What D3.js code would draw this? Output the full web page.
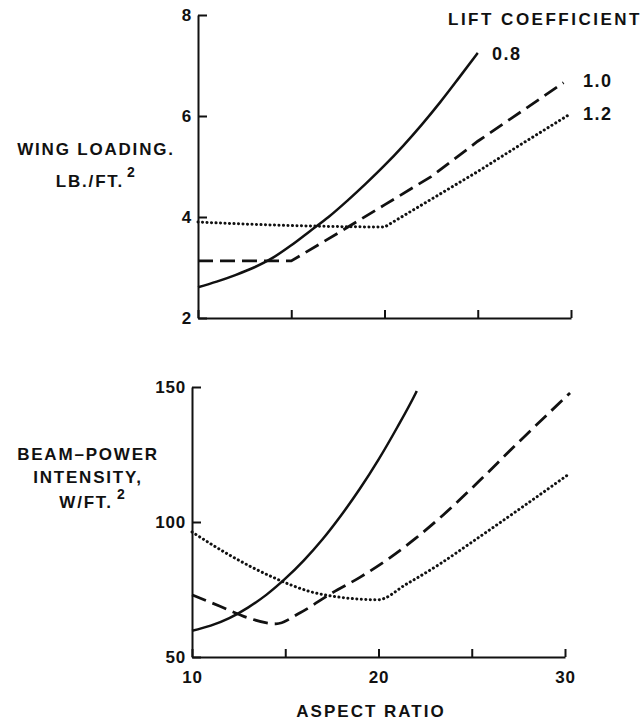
<!DOCTYPE html>
<html>
<head>
<meta charset="utf-8">
<script src="https://cdn.jsdelivr.net/npm/d3@7"></script>
<style>
  body { margin: 0; background: #fff; }
  svg text { font-family: "Liberation Sans", Arial, sans-serif; font-weight: bold; fill: #111; }
</style>
</head>
<body>
<div id="chartBox"></div>
<script>
// aspect ratio samples and values
var lift = ['0.8', '1.0', '1.2'];

var wingAR08 = [10, 11, 12, 13, 14, 15, 16, 17, 18, 19, 20, 21, 22, 23, 24, 25];
var wing08   = [2.61, 2.72, 2.85, 3.0, 3.19, 3.44, 3.72, 4.0, 4.32, 4.66, 5.02, 5.41, 5.83, 6.28, 6.76, 7.25];
var wingAR10 = [10, 15, 17.5, 20, 22.5, 25, 27.5, 29.6];
var wing10   = [3.13, 3.13, 3.68, 4.24, 4.8, 5.5, 6.13, 6.66];
var wingAR12 = [10, 12.5, 15, 17.5, 20, 22.5, 25, 27.5, 30];
var wing12   = [3.9, 3.86, 3.83, 3.81, 3.8, 4.35, 4.9, 5.48, 6.05];

var beamAR08 = [10, 11, 12, 13, 14, 15, 16, 17, 18, 19, 20, 21, 22, 22.05];
var beam08   = [59.7, 61.6, 64.4, 68.3, 73.1, 79, 85.8, 93.6, 102.5, 112.3, 123.1, 135, 147.8, 148.5];
var beamAR10 = [10, 11.5, 13, 14.5, 15.8, 17.5, 19, 20.5, 22, 23.5, 25, 27.5, 30.27];
var beam10   = [73, 68.8, 64.5, 62.3, 66.4, 73.7, 79.5, 86.2, 94, 102.8, 112.5, 129.5, 147.8];
var beamAR12 = [10, 12, 14.35, 16.3, 18.1, 19.97, 21.5, 23.3, 25, 27.5, 30.1];
var beam12   = [96.3, 87.8, 79.5, 74.3, 72, 71.2, 77, 84.5, 92.5, 104.5, 117.2];

var xTicks = [10, 15, 20, 25, 30];
var xTickLabels = [10, 20, 30];
var wingTicks = [2, 4, 6, 8];
var beamTicks = [50, 100, 150];

var w = 643, h = 723;

var svg = d3.select('#chartBox')
  .append('svg')
  .attr('width', w)
  .attr('height', h)

var xTop = d3.scaleLinear().domain([10, 30]).range([198, 571]);
var yTop = d3.scaleLinear().domain([2, 8]).range([318, 15]);
var xBot = d3.scaleLinear().domain([10, 30]).range([192, 565]);
var yBot = d3.scaleLinear().domain([50, 150]).range([657, 387]);

var styles = [
  {dash: null, width: 2.5, cap: 'butt'},
  {dash: '15,7', width: 2.8, cap: 'butt'},
  {dash: '0.1,4.4', width: 3, cap: 'round'}
]

function zip(a, v) {
  return a.map(function(d, i) { return {a: d, v: v[i]}; });
}

function drawAxes(x, y, yTicks, bottomY, showLabels) {
  var ax = svg.append('g')
    .attr('transform', 'translate(0,' + bottomY + ')')
    .call(d3.axisBottom(x).tickValues(xTicks).tickSizeInner(-8).tickSizeOuter(0).tickPadding(14)
      .tickFormat(function(d) { return showLabels && xTickLabels.indexOf(d) >= 0 ? d : ''; }));
  var ay = svg.append('g')
    .attr('transform', 'translate(' + x(10) + ',0)')
    .call(d3.axisLeft(y).tickValues(yTicks).tickSizeInner(-9).tickSizeOuter(0).tickPadding(6)
      .tickFormat(d3.format('d')));
  [ax, ay].forEach(function(g) {
    g.selectAll('path, line').attr('stroke', '#111').attr('stroke-width', 2);
    g.selectAll('text').attr('font-size', 17).attr('font-family', null).style('letter-spacing', '0.8px');
  });
}

function drawLines(x, y, series, curves) {
  series.forEach(function(s, i) {
    var line = d3.line()
      .x(function(d) { return x(d.a); })
      .y(function(d) { return y(d.v); })
      .curve(curves[i]);
    svg.append('path')
      .datum(s)
      .attr('d', line)
      .attr('fill', 'none')
      .attr('stroke', '#111')
      .attr('stroke-width', styles[i].width)
      .attr('stroke-dasharray', styles[i].dash)
      .attr('stroke-linecap', styles[i].cap)
  });
}

drawAxes(xTop, yTop, wingTicks, 318, false);
drawAxes(xBot, yBot, beamTicks, 657, true);

drawLines(xTop, yTop, [zip(wingAR08, wing08), zip(wingAR10, wing10), zip(wingAR12, wing12)],
  [d3.curveMonotoneX, d3.curveLinear, d3.curveLinear]);
drawLines(xBot, yBot, [zip(beamAR08, beam08), zip(beamAR10, beam10), zip(beamAR12, beam12)],
  [d3.curveMonotoneX, d3.curveMonotoneX, d3.curveMonotoneX]);

function label(txt, x, y, anchor, size, spacing) {
  return svg.append('text')
    .attr('x', x)
    .attr('y', y)
    .attr('text-anchor', anchor || 'start')
    .attr('font-size', size || 17)
    .style('letter-spacing', (spacing || 1) + 'px')
    .text(txt);
}

function sup(txt, x, y) {
  label(txt, x, y, 'start', 14, 0);
}

// legend
label('LIFT COEFFICIENT', 448, 25, 'start', 17, 2.5);
label(lift[0], 492, 60, 'start', 18, 1.5);
label(lift[1], 583, 87, 'start', 18, 1.5);
label(lift[2], 583, 120, 'start', 18, 1.5);

// axis titles
label('WING LOADING.', 96, 155, 'middle', 17, 1.8);
label('LB./FT.', 90, 187, 'middle', 17, 1.8);
sup('2', 127, 177);

label('BEAM\u2013POWER', 88, 460, 'middle', 17, 1.8);
label('INTENSITY,', 88, 483, 'middle', 17, 1.8);
label('W/FT.', 86, 508, 'middle', 17, 1.8);
sup('2', 117, 499);

label('ASPECT RATIO', 371, 717, 'middle', 17, 2);
</script>
</body>
</html>
